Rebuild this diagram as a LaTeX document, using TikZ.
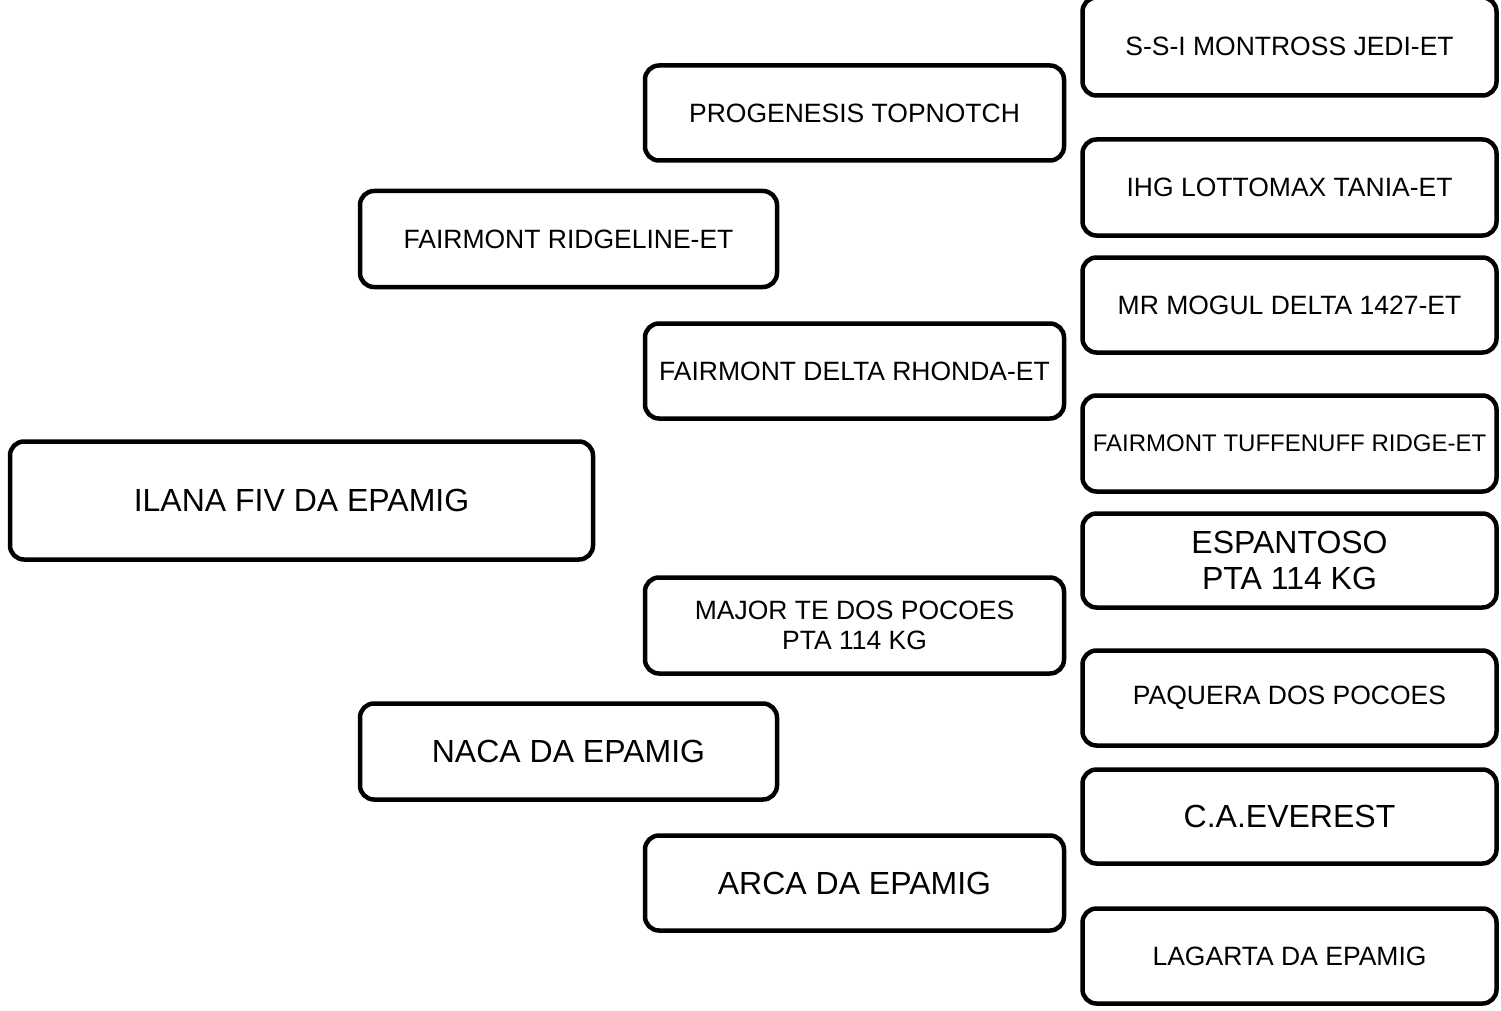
\documentclass[tikz,border=0pt]{standalone}
\usepackage{fontspec}
\setmainfont{Liberation Sans}
\begin{document}
\begin{tikzpicture}[x=1pt,y=-1pt,
  box/.style={draw=black, line width=4.5pt, rounded corners=14pt, fill=white,
    align=center, inner sep=2pt, font=\fontsize{26.5}{30}\selectfont},
  big/.style={font=\fontsize{32}{36}\selectfont},
  tiny/.style={font=\fontsize{24}{28}\selectfont}]
\useasboundingbox (0,0) rectangle (1501,1011);
% generation 1
\node[box, big, minimum width=583pt, minimum height=118pt] (ilana) at (301.5,500.5) {ILANA FIV DA EPAMIG};
% generation 2
\node[box, minimum width=417pt, minimum height=96pt] (ridgeline) at (568.5,239) {FAIRMONT RIDGELINE-ET};
\node[box, big, minimum width=417pt, minimum height=96pt] (naca) at (568.5,751.5) {NACA DA EPAMIG};
% generation 3
\node[box, minimum width=419pt, minimum height=95pt] (progenesis) at (854.5,113) {PROGENESIS TOPNOTCH};
\node[box, minimum width=419pt, minimum height=95pt] (rhonda) at (854.5,371) {FAIRMONT DELTA RHONDA-ET};
\node[box, minimum width=419pt, minimum height=96pt] (major) at (854.5,625.5) {MAJOR TE DOS POCOES\\PTA 114 KG};
\node[box, big, minimum width=419pt, minimum height=95pt] (arca) at (854.5,883) {ARCA DA EPAMIG};
% generation 4
\node[box, minimum width=414pt, minimum height=98pt] (jedi) at (1289.5,46.5) {S-S-I MONTROSS JEDI-ET};
\node[box, minimum width=414pt, minimum height=96pt] (tania) at (1289.5,187.5) {IHG LOTTOMAX TANIA-ET};
\node[box, minimum width=414pt, minimum height=95pt] (mogul) at (1289.5,305) {MR MOGUL DELTA 1427-ET};
\node[box, tiny, minimum width=414pt, minimum height=96pt] (tuffenuff) at (1289.5,443.5) {FAIRMONT TUFFENUFF RIDGE-ET};
\node[box, big, minimum width=414pt, minimum height=94pt] (espantoso) at (1289.5,560.5) {ESPANTOSO\\PTA 114 KG};
\node[box, minimum width=414pt, minimum height=95pt] (paquera) at (1289.5,698) {PAQUERA DOS POCOES};
\node[box, big, minimum width=414pt, minimum height=94pt] (everest) at (1289.5,816.5) {C.A.EVEREST};
\node[box, minimum width=414pt, minimum height=95pt] (lagarta) at (1289.5,956) {LAGARTA DA EPAMIG};
\end{tikzpicture}
\end{document}
